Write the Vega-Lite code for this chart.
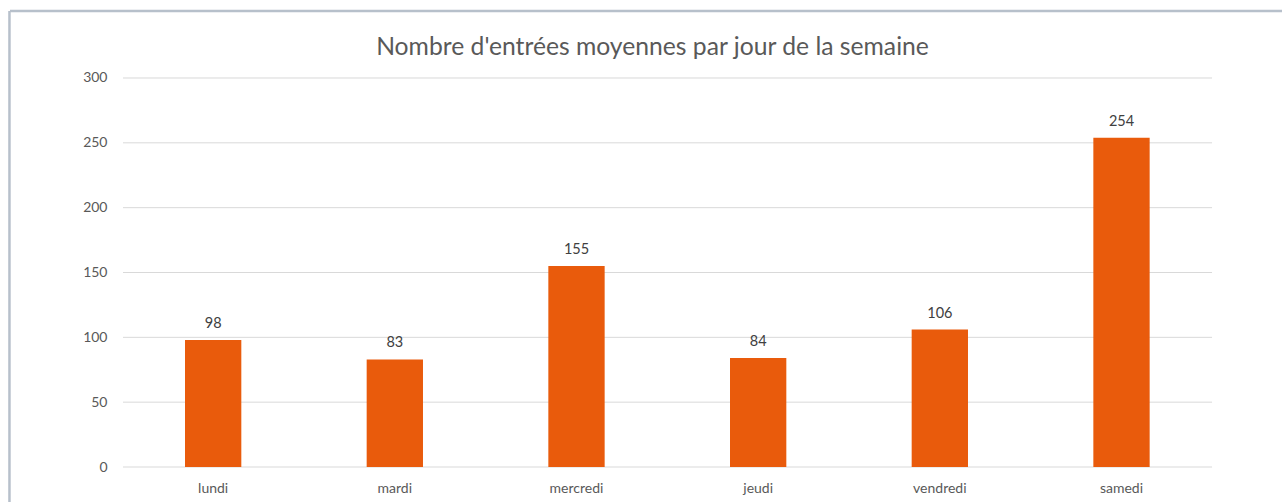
{
  "$schema": "https://vega.github.io/schema/vega-lite/v6.json",
  "width": 1272,
  "height": 491,
  "autosize": "none",
  "padding": {"left": 10, "top": 11, "right": 0, "bottom": 0},
  "background": "white",
  "config": {"view": {"stroke": null}, "font": "Lato"},
  "title": {
    "text": "Nombre d'entrées moyennes par jour de la semaine",
    "fontSize": 24.7,
    "font": "Lato",
    "fontWeight": "normal",
    "color": "#595959",
    "anchor": "middle",
    "frame": "group",
    "offset": -70,
    "baseline": "alphabetic",
    "dx": 6.5
  },
  "data": {
    "values": [
      {"jour": "lundi", "n": 98},
      {"jour": "mardi", "n": 83},
      {"jour": "mercredi", "n": 155},
      {"jour": "jeudi", "n": 84},
      {"jour": "vendredi", "n": 106},
      {"jour": "samedi", "n": 254}
    ]
  },
  "layer": [
    {
      "data": {"values": [{"g": 0}, {"g": 50}, {"g": 100}, {"g": 150}, {"g": 200}, {"g": 250}, {"g": 300}]},
      "mark": {"type": "rule", "color": "#D9D9D9", "strokeWidth": 1},
      "encoding": {
        "y": {"field": "g", "type": "quantitative"},
        "x": {"datum": "lundi", "type": "nominal", "bandPosition": -1.101},
        "x2": {"datum": "samedi", "bandPosition": 2.108}
      }
    },
    {
      "data": {"values": [{"b": "top"}]},
      "mark": {"type": "rule", "color": "#B7C0CB", "strokeWidth": 2.5},
      "encoding": {
        "y": {"datum": 351.67, "type": "quantitative"}
      }
    },
    {
      "data": {"values": [{"b": "left"}]},
      "mark": {"type": "rule", "color": "#B7C0CB", "strokeWidth": 2.5},
      "encoding": {
        "x": {"datum": "lundi", "type": "nominal", "bandPosition": -3.117}
      }
    },
    {
      "mark": {"type": "bar", "color": "#E95B0C"},
      "encoding": {
        "x": {
          "field": "jour",
          "type": "nominal",
          "sort": null,
          "scale": {
            "domain": ["lundi", "mardi", "mercredi", "jeudi", "vendredi", "samedi"],
            "paddingInner": 0.69,
            "paddingOuter": 0.8459,
            "align": 0.5694
          },
          "axis": {
            "orient": "bottom",
            "offset": -35,
            "domain": false,
            "ticks": false,
            "grid": false,
            "labelPadding": 21,
            "labelAngle": 0,
            "labelAlign": "center",
            "labelFontSize": 14,
            "labelColor": "#595959",
            "labelFont": "Lato",
            "title": null
          }
        },
        "y": {
          "field": "n",
          "type": "quantitative",
          "scale": {"domain": [-26.99, 351.67], "nice": false, "zero": false},
          "axis": {
            "orient": "left",
            "offset": -113,
            "domain": false,
            "ticks": false,
            "grid": false,
            "values": [0, 50, 100, 150, 200, 250, 300],
            "labelPadding": 16,
            "labelFontSize": 14,
            "labelColor": "#595959",
            "labelFont": "Lato",
            "title": null
          }
        },
        "y2": {"datum": 0}
      }
    },
    {
      "mark": {"type": "text", "baseline": "alphabetic", "dy": -12, "fontSize": 14.5, "color": "#404040", "font": "Lato"},
      "encoding": {
        "x": {"field": "jour", "type": "nominal", "sort": null},
        "y": {"field": "n", "type": "quantitative"},
        "text": {"field": "n", "type": "quantitative"}
      }
    }
  ]
}
